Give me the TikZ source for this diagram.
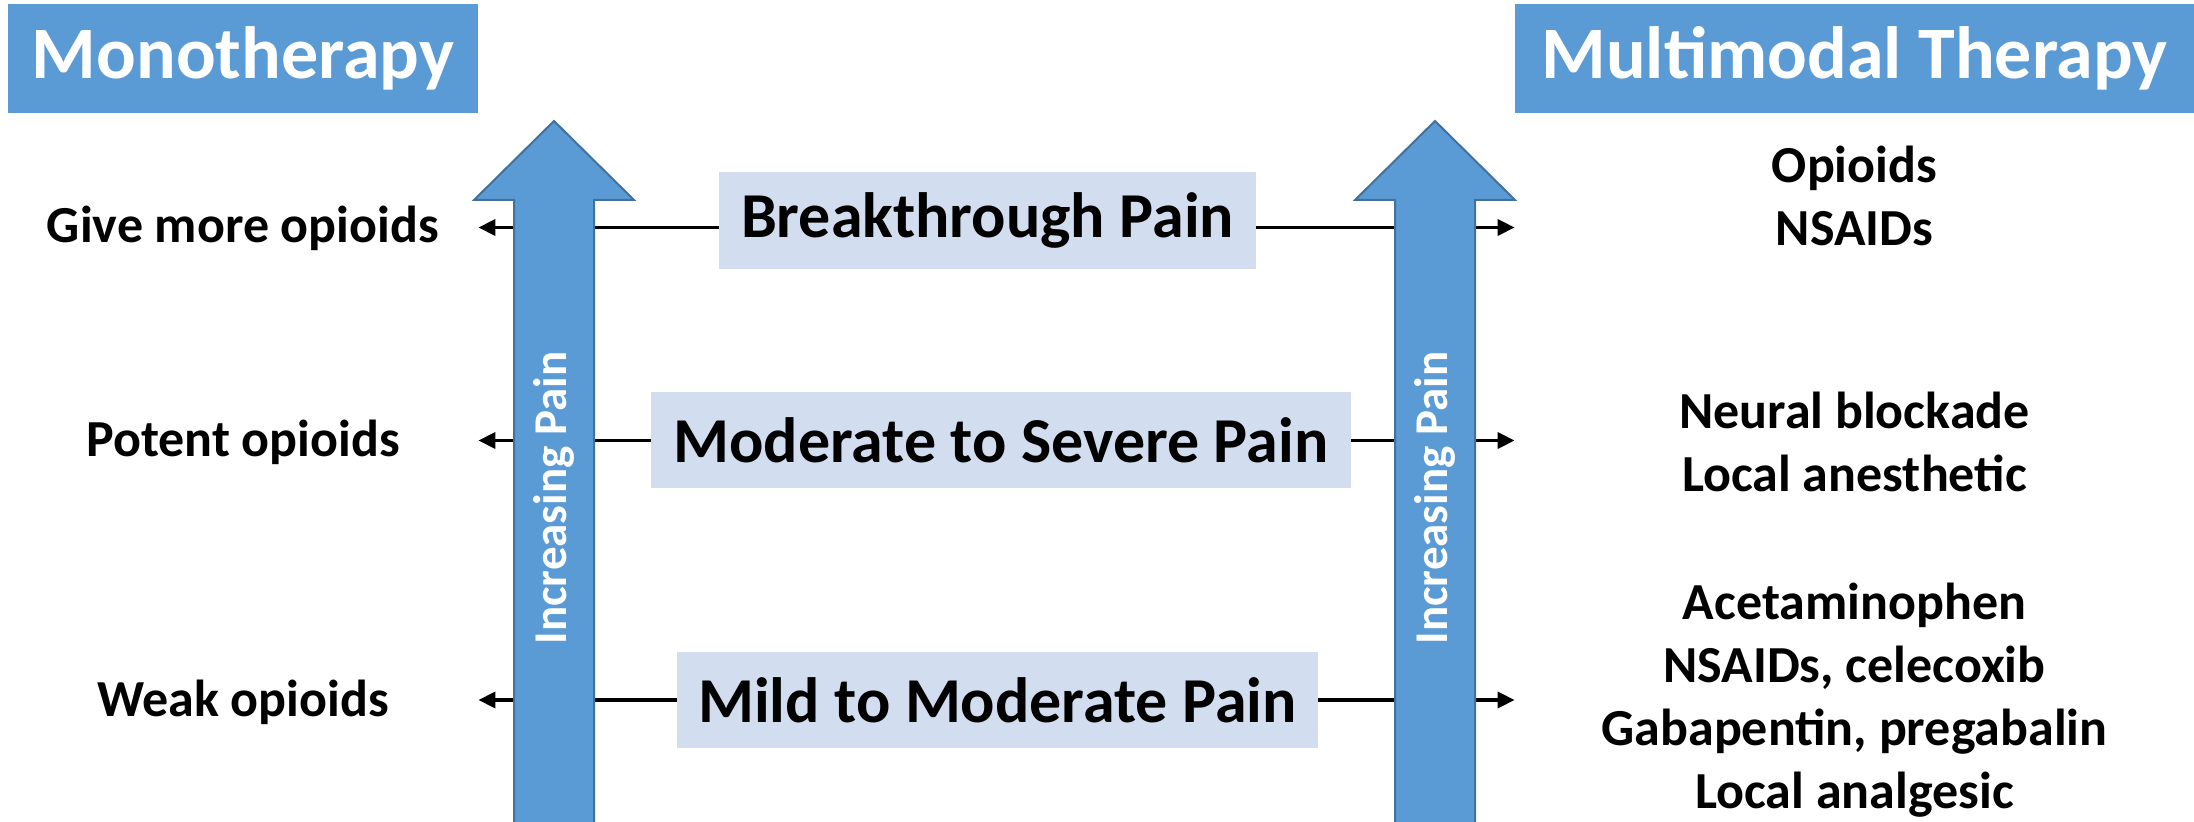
\documentclass[tikz,border=0pt]{standalone}
\usepackage{fontspec}
\setmainfont{Carlito}
\usepackage{tikz}
\usetikzlibrary{arrows.meta}
\definecolor{arrowblue}{HTML}{5B9BD5}
\definecolor{arrowedge}{HTML}{41719C}
\definecolor{painfill}{HTML}{D2DEEF}

\begin{document}
\begin{tikzpicture}[x=0.5pt,y=-0.5pt,
  title/.style={fill=arrowblue, text=white, inner sep=0pt, minimum height=54.5pt, font=\fontsize{37}{44}\selectfont\bfseries},
  painbox/.style={fill=painfill, inner sep=0pt, minimum height=48pt, font=\fontsize{32}{38}\selectfont\bfseries},
  drug/.style={inner sep=0pt, align=flush center, font=\fontsize{26}{31.5}\selectfont\bfseries},
  painarrow/.style={fill=arrowblue, draw=arrowedge, line width=1pt, line join=miter},
  uptext/.style={rotate=90, text=white, inner sep=0pt, font=\fontsize{23.5}{28}\selectfont\bfseries},
  link/.style={line width=1.8pt, ->, >={Triangle[length=8.5pt,width=8pt]}}]
\useasboundingbox (0,0) rectangle (2194,822);

% headings
\node[title, minimum width=235pt] (mono) at (243,58.5) {Monotherapy};
\node[title, minimum width=339.5pt] (multi) at (1854.5,58.5) {Multimodal Therapy};

% pain levels
\node[painbox, minimum width=268.5pt, minimum height=48.5pt] (bp) at (987.5,220.5) {Breakthrough Pain};
\node[painbox, minimum width=350pt] (msp) at (1001,440.5) {Moderate to Severe Pain};
\node[painbox, minimum width=320.5pt] (mmp) at (997.5,700) {Mild to Moderate Pain};

% monotherapy side
\node[drug, text width=235pt] (more) at (243,228) {Give more opioids};
\node[drug, text width=235pt] (potent) at (243,442) {Potent opioids};
\node[drug, text width=235pt] (weak) at (243,702) {Weak opioids};

% multimodal side
\node[drug, text width=339.5pt] (rescue) at (1854.5,196) {Opioids\\NSAIDs};
\node[drug, text width=339.5pt] (regional) at (1854.5,442) {Neural blockade\\Local anesthetic};
\node[drug, text width=339.5pt] (base) at (1854.5,700) {Acetaminophen\\NSAIDs, celecoxib\\Gabapentin, pregabalin\\Local analgesic};

\draw[link] ([yshift=-3.5pt]bp.west) -- ([yshift=-3.5pt]bp.west -| more.east);
\draw[link] ([yshift=-3.5pt]bp.east) -- ([yshift=-3.5pt]bp.east -| rescue.west);
\draw[link] (msp.west) -- (msp.west -| potent.east);
\draw[link] (msp.east) -- (msp.east -| regional.west);
\draw[link] (mmp.west) -- (mmp.west -| weak.east);
\draw[link] (mmp.east) -- (mmp.east -| base.west);

% increasing pain arrows
\filldraw[painarrow] (514,822) -- (514,200) -- (474,200) -- (554,121) -- (634,200) -- (594,200) -- (594,822);
\node[uptext] (upleft) at (554,498) {Increasing Pain};
\filldraw[painarrow] (1395,822) -- (1395,200) -- (1355,200) -- (1435,121) -- (1515,200) -- (1475,200) -- (1475,822);
\node[uptext] (upright) at (1435,498) {Increasing Pain};
\end{tikzpicture}
\end{document}
